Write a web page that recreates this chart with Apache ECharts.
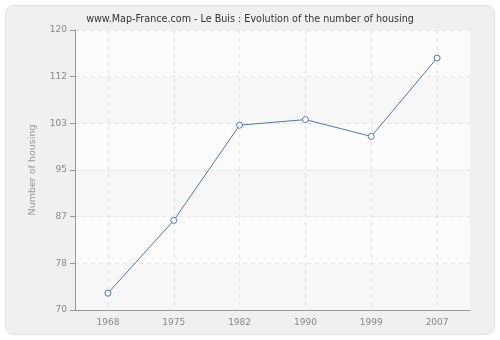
<!DOCTYPE html>
<html><head><meta charset="utf-8">
<script src="https://cdn.jsdelivr.net/npm/echarts@6/dist/echarts.min.js"></script>
<style>html,body{margin:0;padding:0;background:#fff;}#c{width:500px;height:340px;}</style>
</head><body><div id="c"></div>
<script>
const titleText = 'www.Map-France.com - Le Buis : Evolution of the number of housing';
const yAxisName = 'Number of housing';
const years = ['1968', '1975', '1982', '1990', '1999', '2007'];
const housing = [73, 86, 103, 104, 101, 115];
const yMin = 70, yMax = 120, ySteps = 6;

const font = 'DejaVu Sans';
const chart = echarts.init(document.getElementById('c'), null, {renderer: 'canvas'});
chart.setOption({
  animation: false,
  backgroundColor: '#fff',
  graphic: [{
    type: 'rect', z: -10, silent: true,
    shape: {x: 5.5, y: 5.5, width: 489, height: 329, r: 8},
    style: {fill: '#f0f0f0', stroke: '#e2e2e2', lineWidth: 1}
  }],
  title: {
    text: titleText, left: 'center', top: 9,
    textStyle: {fontFamily: font, fontSize: 9.6, fontWeight: 'normal', color: '#333'}
  },
  grid: {left: 75, right: 30, top: 30, bottom: 30, show: true, backgroundColor: '#fafafa', borderWidth: 0},
  xAxis: {
    type: 'category', data: years, boundaryGap: true,
    axisLine: {lineStyle: {color: '#999'}},
    axisTick: {alignWithLabel: true, length: 5, lineStyle: {color: '#999'}},
    axisLabel: {fontFamily: font, fontSize: 9, color: '#888', margin: 8},
    splitLine: {show: true, alignWithLabel: true, lineStyle: {color: '#e4e4e4', type: [4, 4]}}
  },
  yAxis: {
    type: 'value', min: yMin, max: yMax, interval: (yMax - yMin) / ySteps,
    name: yAxisName, nameLocation: 'middle', nameGap: 37,
    nameTextStyle: {fontFamily: font, fontSize: 9.5, color: '#999'},
    axisLine: {show: true, lineStyle: {color: '#999'}},
    axisTick: {show: true, length: 5, lineStyle: {color: '#999'}},
    axisLabel: {fontFamily: font, fontSize: 9, color: '#888', margin: 8, formatter: v => String(Math.round(v))},
    splitLine: {show: true, lineStyle: {color: '#e4e4e4', type: [4, 4]}},
    splitArea: {show: true, areaStyle: {color: ['#f7f7f7', '#fbfbfb']}}
  },
  series: [{
    type: 'line', data: housing,
    symbol: 'circle', symbolSize: 6,
    itemStyle: {color: '#fff', borderColor: '#4f79ad', borderWidth: 1},
    lineStyle: {color: '#4f79ad', width: 1}
  }]
});
</script></body></html>
